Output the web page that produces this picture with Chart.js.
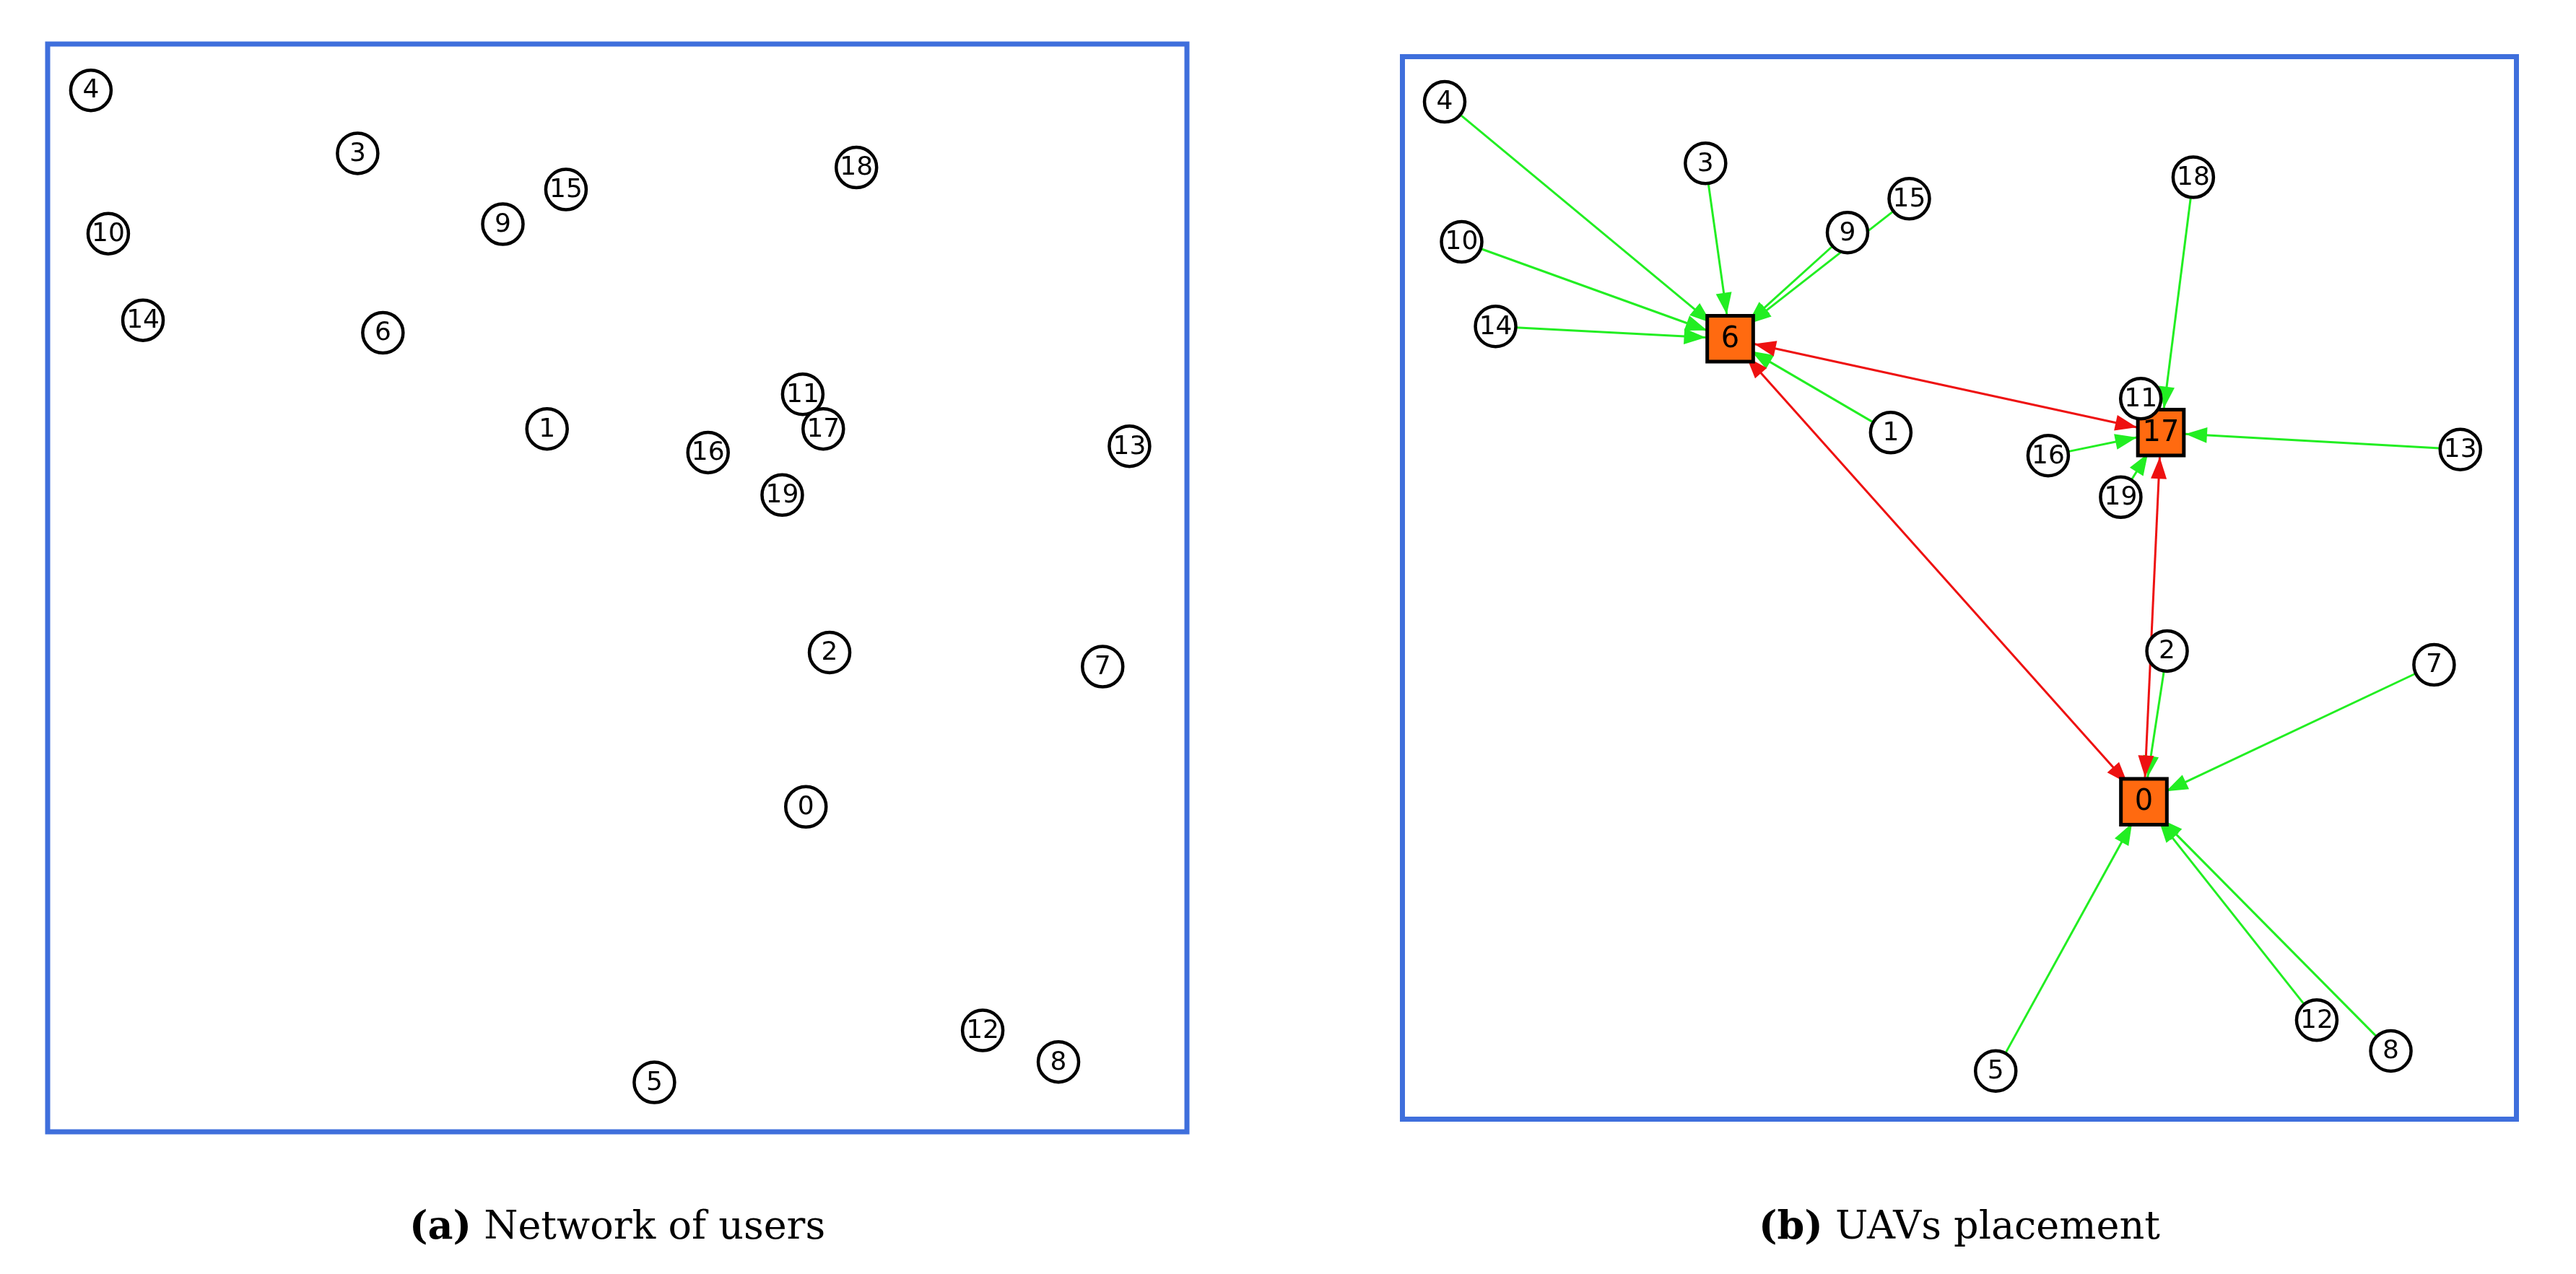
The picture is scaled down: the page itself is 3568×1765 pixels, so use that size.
<!DOCTYPE html>
<html><head><meta charset="utf-8">
<script src="https://cdn.jsdelivr.net/npm/chart.js@4/dist/chart.umd.min.js"></script>
<style>
html,body{margin:0;padding:0;background:#fff;width:3568px;height:1765px;position:relative;overflow:hidden}
.wrap{position:absolute;top:25px;width:1650px;height:1579px}
.cap{position:absolute;top:1665px;width:1650px;text-align:center;font:54px "DejaVu Serif",serif}
</style></head><body>
<div class="wrap" style="left:30px"><canvas id="chartA"></canvas></div>
<div class="wrap" style="left:1889px"><canvas id="chartB"></canvas></div>
<div class="cap" style="left:30px"><b>(a)</b> Network of users</div>
<div class="cap" style="left:1889px"><b>(b)</b> UAVs placement</div>
<script>
// user ids and positions (panel units, y down)
const ids = [0,1,2,3,4,5,6,7,8,9,10,11,12,13,14,15,16,17,18,19];
const xs = [482,318,497,198,29,386,214,670,642,290,40,480,594,687,62,330,420,493,514,467];
const ys = [486,246,388,71,31,661,185,397,648,116,122,224,628,257,177,94,261,246,80,288];
const uavs = [0,6,17];
// green links user -> uav
const links = [[4,6],[3,6],[10,6],[14,6],[9,6],[15,6],[1,6],[18,17],[11,17],[16,17],[19,17],[13,17],[2,0],[7,0],[5,0],[12,0],[8,0]];
// red links uav <-> uav
const backbone = [[6,17],[17,0],[6,0]];

const R_USER = 28, R_UAV = 45;

function arrowHead(ctx, x, y, ang, color) {
  const L = 30, W = 11;
  ctx.fillStyle = color;
  ctx.beginPath();
  ctx.moveTo(x, y);
  ctx.lineTo(x - L*Math.cos(ang) + W*Math.sin(ang), y - L*Math.sin(ang) - W*Math.cos(ang));
  ctx.lineTo(x - L*Math.cos(ang) - W*Math.sin(ang), y - L*Math.sin(ang) + W*Math.cos(ang));
  ctx.closePath();
  ctx.fill();
}

function makeChart(id, withUavs) {
  const users = ids.filter(i => !(withUavs && uavs.includes(i)));
  const px = (c, i) => [c.scales.x.getPixelForValue(xs[i]), c.scales.y.getPixelForValue(ys[i])];
  const plugin = {
    id: 'graph',
    beforeDatasetsDraw(c) {
      if (!withUavs) return;
      const ctx = c.ctx;
      ctx.save();
      ctx.lineWidth = 3;
      const draw = (a, b, color, both) => {
        const [x1, y1] = px(c, a), [x2, y2] = px(c, b);
        const ang = Math.atan2(y2 - y1, x2 - x1);
        const ra = uavs.includes(a) ? 34 : R_USER, rb = 34;
        const sx = x1 + ra*Math.cos(ang), sy = y1 + ra*Math.sin(ang);
        const ex = x2 - rb*Math.cos(ang), ey = y2 - rb*Math.sin(ang);
        ctx.strokeStyle = color;
        ctx.beginPath(); ctx.moveTo(sx, sy); ctx.lineTo(ex, ey); ctx.stroke();
        arrowHead(ctx, ex, ey, ang, color);
        if (both) arrowHead(ctx, sx, sy, ang + Math.PI, color);
      };
      links.forEach(([a, b]) => draw(a, b, '#22ee22', false));
      backbone.forEach(([a, b]) => draw(a, b, '#ee1111', true));
      ctx.restore();
    },
    afterDatasetsDraw(c) {
      const ctx = c.ctx;
      ctx.save();
      ctx.fillStyle = '#000';
      ctx.textAlign = 'center';
      ctx.textBaseline = 'middle';
      ids.forEach(i => {
        const [x, y] = px(c, i);
        ctx.font = (withUavs && uavs.includes(i) ? 40 : 36) + 'px "DejaVu Sans", sans-serif';
        ctx.fillText(String(i), x, y + 1);
      });
      const a = c.chartArea;
      ctx.strokeStyle = '#3f6fdc';
      ctx.lineWidth = 7;
      ctx.strokeRect(a.left + 3.5, a.top + 3.5, a.width - 7, a.height - 7);
      ctx.restore();
    }
  };
  const datasets = [{
    data: users.map(i => ({x: xs[i], y: ys[i]})),
    pointStyle: 'circle', pointRadius: R_USER, pointBackgroundColor: '#fff',
    pointBorderColor: '#000', pointBorderWidth: 4.5
  }];
  if (withUavs) datasets.push({
    data: uavs.map(i => ({x: xs[i], y: ys[i]})),
    pointStyle: 'rect', pointRadius: R_UAV, pointBackgroundColor: '#ff6a10',
    pointBorderColor: '#000', pointBorderWidth: 5
  });
  new Chart(document.getElementById(id), {
    type: 'scatter',
    data: {datasets},
    options: {
      responsive: true, maintainAspectRatio: false, animation: false, devicePixelRatio: 1,
      layout: {padding: 0},
      plugins: {legend: {display: false}, tooltip: {enabled: false}},
      scales: {
        x: {display: false, min: 0, max: 725},
        y: {display: false, min: 0, max: 694, reverse: true}
      }
    },
    plugins: [plugin]
  });
}
makeChart('chartA', false);
makeChart('chartB', true);
</script>
</body></html>
